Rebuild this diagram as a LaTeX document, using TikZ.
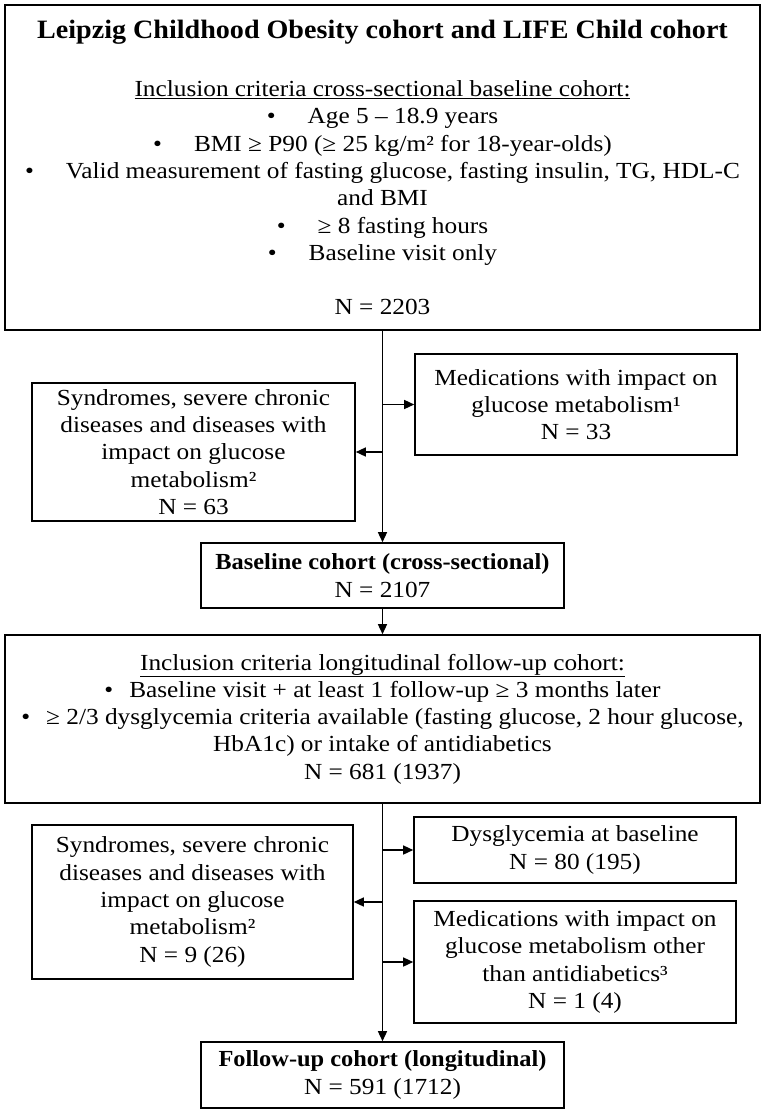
\documentclass[tikz,border=0pt]{standalone}
\usepackage{fontspec}
\setmainfont{Liberation Serif}[FakeStretch=1.10,BoldFeatures={FakeStretch=1.06}]
\usetikzlibrary{arrows.meta}
\newcommand{\fsz}{\fontsize{23}{27.3}\selectfont}
\newcommand{\bul}[1]{•\hspace{#1}}
\tikzset{
  box/.style={draw,line width=1.6pt,align=center,inner sep=0pt,font=\fsz},
  conn/.style={line width=1.4pt,-{Triangle[length=10pt,width=9pt]}},
}
\begin{document}
\begin{tikzpicture}[x=1pt,y=-1pt]
\useasboundingbox (0,0) rectangle (764,1113);
\node[box,minimum width=755pt,minimum height=325pt] (b1) at (382.5,167.5) {%
{\bfseries\fontsize{26.5}{27.3}\selectfont Leipzig Childhood Obesity cohort and LIFE Child cohort}\\[31pt]
\underline{Inclusion criteria cross-sectional baseline cohort:}\\
\bul{32pt}Age 5 – 18.9 years\\
\bul{32pt}BMI ≥ P90 (≥ 25 kg/m² for 18-year-olds)\\
\bul{32pt}Valid measurement of fasting glucose, fasting insulin, TG, HDL-C\\
and BMI\\
\bul{32pt}≥ 8 fasting hours\\
\bul{32pt}Baseline visit only\\[27.3pt]
N = 2203};
\node[box,minimum width=322pt,minimum height=101pt] (m1) at (576,404.5) {Medications with impact on\\ glucose metabolism¹\\ N = 33};
\node[box,minimum width=323pt,minimum height=138pt] (s1) at (193.5,452) {Syndromes, severe chronic\\ diseases and diseases with\\ impact on glucose\\ metabolism²\\ N = 63};
\node[box,minimum width=363pt,minimum height=65pt] (base) at (382.5,575.5) {\textbf{Baseline cohort (cross-sectional)}\\ N = 2107};
\node[box,minimum width=755pt,minimum height=168pt] (b2) at (382.5,719) {%
\underline{Inclusion criteria longitudinal follow-up cohort:}\\
\bul{16pt}Baseline visit + at least 1 follow-up ≥ 3 months later\\
\bul{16pt}≥ 2/3 dysglycemia criteria available (fasting glucose, 2 hour glucose,\\
HbA1c) or intake of antidiabetics\\
N = 681 (1937)};
\node[box,minimum width=322pt,minimum height=66pt] (d) at (575,850) {Dysglycemia at baseline\\ N = 80 (195)};
\node[box,minimum width=321pt,minimum height=154pt] (s2) at (192.5,902) {Syndromes, severe chronic\\ diseases and diseases with\\ impact on glucose\\ metabolism²\\ N = 9 (26)};
\node[box,minimum width=322pt,minimum height=122pt] (m2) at (575,962) {Medications with impact on\\ glucose metabolism other\\ than antidiabetics³\\ N = 1 (4)};
\node[box,minimum width=363pt,minimum height=66pt] (f) at (382.5,1075) {\textbf{Follow-up cohort (longitudinal)}\\ N = 591 (1712)};
\draw[conn] (b1.south) -- (base.north);
\draw[conn] (b1.south |- m1.west) -- (m1.west);
\draw[conn] (b1.south |- s1.east) -- (s1.east);
\draw[conn] (base.south) -- (b2.north);
\draw[conn] (b2.south) -- (f.north);
\draw[conn] (b2.south |- d.west) -- (d.west);
\draw[conn] (b2.south |- s2.east) -- (s2.east);
\draw[conn] (b2.south |- m2.west) -- (m2.west);
\end{tikzpicture}
\end{document}
